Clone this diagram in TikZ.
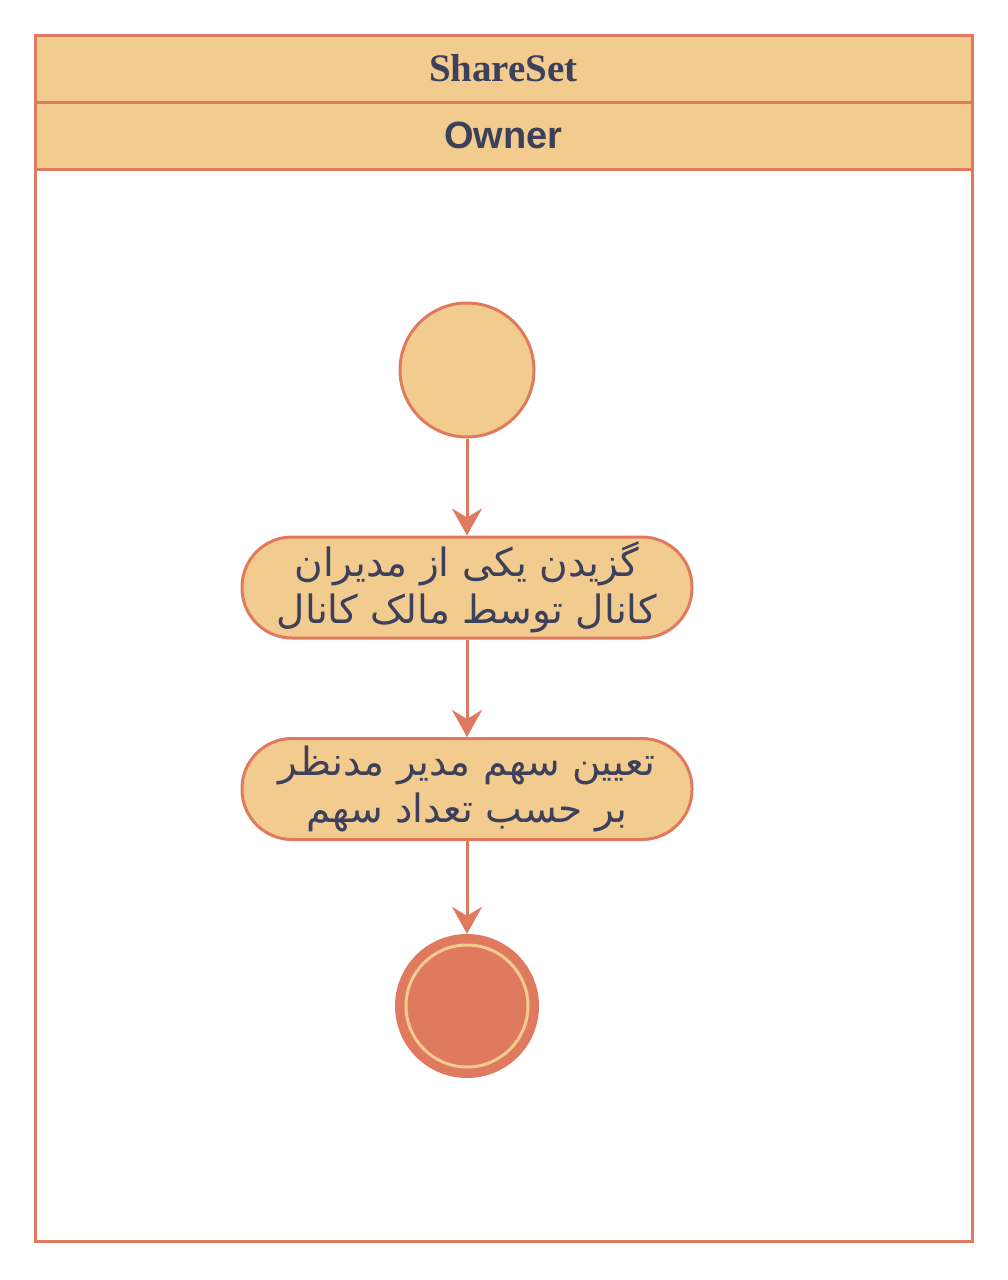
\documentclass[tikz,border=0pt]{standalone}
\usepackage{fontspec}
\setmainfont{Liberation Serif}
\newfontfamily\sansbold{Liberation Sans}
\newfontfamily\persianfont[Script=Arabic]{DejaVu Sans}
\TeXXeTstate=1
\usetikzlibrary{arrows.meta}
\definecolor{sand}{HTML}{F2CC8F}
\definecolor{terra}{HTML}{E07A5F}
\definecolor{ink}{HTML}{3D405B}
\tikzset{
  lanehead/.style={draw=terra, fill=sand, line width=3pt, minimum width=937pt, minimum height=67pt, inner sep=0pt, text=ink},
  lanebody/.style={draw=terra, line width=3pt, minimum width=937pt, minimum height=1072pt, inner sep=0pt},
  startnode/.style={circle, draw=terra, fill=sand, line width=3pt, minimum size=134pt, inner sep=0pt},
  actnode/.style={draw=terra, fill=sand, line width=3pt, rounded corners=50pt, minimum width=450pt, minimum height=101pt, inner sep=0pt, text=ink, align=center, font=\persianfont\fontsize{39}{47}\selectfont},
  endouter/.style={circle, fill=terra, minimum size=144pt, inner sep=0pt},
  endinner/.style={circle, draw=sand, line width=3pt, minimum size=122pt, inner sep=0pt},
  flow/.style={draw=terra, line width=3pt, -{Stealth[length=27pt,width=30pt,inset=9pt]}}
}
\begin{document}
\begin{tikzpicture}[x=1pt,y=-1pt]
\useasboundingbox[fill=white] (0,0) rectangle (1008,1280);
\node[lanebody] (lane) at (503.5,705) {};
\node[lanehead, font=\bfseries\fontsize{39}{44}\selectfont] (pool) at (503.5,68.5) {ShareSet};
\node[lanehead, font=\sansbold\bfseries\fontsize{38}{44}\selectfont] (owner) at (503.5,135.5) {Owner};
\node[startnode] (start) at (467,370) {};
\node[actnode] (act1) at (467,587.5) {\beginR گزیدن یکی از مدیران\endR\\\beginR کانال توسط مالک کانال\endR};
\node[actnode] (act2) at (467,789) {\beginR تعیین سهم مدیر مدنظر\endR\\\beginR بر حسب تعداد سهم\endR};
\node[endouter] (final) at (467,1006) {};
\node[endinner] (finalring) at (final.center) {};
\draw[flow] (start) -- (act1);
\draw[flow] (act1) -- (act2);
\draw[flow] (act2) -- (final);
\end{tikzpicture}
\end{document}
